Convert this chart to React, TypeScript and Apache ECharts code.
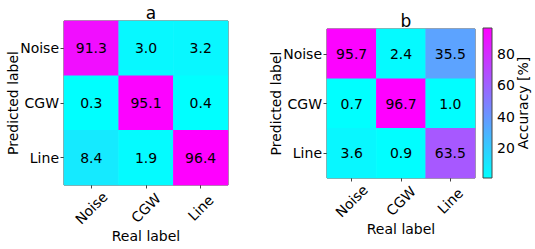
import React, { useEffect, useRef } from "react";
import * as echarts from "echarts";

const categories = ["Noise", "CGW", "Line"];
const titles = ["a", "b"];
// rows: predicted label (Noise, CGW, Line); columns: real label (Noise, CGW, Line)
const matrixA = [
  [91.3, 3.0, 3.2],
  [0.3, 95.1, 0.4],
  [8.4, 1.9, 96.4],
];
const matrixB = [
  [95.7, 2.4, 35.5],
  [0.7, 96.7, 1.0],
  [3.6, 0.9, 63.5],
];
const colorbarTicks = [20, 40, 60, 80];
const xName = "Real label";
const yName = "Predicted label";
const colorbarName = "Accuracy [%]";

const FONT = "DejaVu Sans";
const FRAME = "#444";
const CMAP = ["#00ffff", "#ff00ff"];

function toHeat(m: number[][]) {
  const out: number[][] = [];
  m.forEach((row, r) => row.forEach((v, c) => out.push([c, r, v])));
  return out;
}
function flatMin(m: number[][]) {
  return Math.min(...m.flat());
}
function flatMax(m: number[][]) {
  return Math.max(...m.flat());
}

export default function App() {
  const ref = useRef<HTMLDivElement>(null);
  useEffect(() => {
    if (!ref.current) return;
    const chart = echarts.init(ref.current, undefined, { renderer: "svg" });
    const grids = [
      { left: 64, top: 21, width: 164, height: 164 },
      { left: 327, top: 29, width: 148, height: 149 },
    ];
    const cbGrid = { left: 483, top: 28, width: 9, height: 150 };
    const mats = [matrixA, matrixB];
    const bMin = flatMin(matrixB);
    const bMax = flatMax(matrixB);

    const xAxes: any[] = grids.map((_, i) => ({
      type: "category",
      gridIndex: i,
      data: categories,
      axisLine: { show: false },
      axisTick: { show: true, alignWithLabel: true, length: 3.5, lineStyle: { color: FRAME } },
      axisLabel: {
        rotate: 45,
        align: "center",
        verticalAlign: "middle",
        margin: 23,
        fontSize: 14,
        fontFamily: FONT,
        color: "#000",
      },
      name: xName,
      nameLocation: "middle",
      nameGap: 44,
      nameMoveOverlap: false,
      nameTextStyle: { fontSize: 14, fontFamily: FONT, color: "#000" },
      splitLine: { show: false },
    }));
    const yAxes: any[] = grids.map((_, i) => ({
      type: "category",
      gridIndex: i,
      data: categories,
      inverse: true,
      axisLine: { show: false },
      axisTick: { show: true, alignWithLabel: true, length: 3.5, lineStyle: { color: FRAME } },
      axisLabel: { margin: 5, fontSize: 14, fontFamily: FONT, color: "#000" },
      name: yName,
      nameLocation: "middle",
      nameRotate: 90,
      nameGap: 44,
      nameMoveOverlap: false,
      nameTextStyle: { fontSize: 14, fontFamily: FONT, color: "#000" },
      splitLine: { show: false },
    }));
    // colorbar axes
    xAxes.push({ type: "value", gridIndex: 2, min: 0, max: 1, show: false });
    yAxes.push({
      type: "value",
      gridIndex: 2,
      position: "right",
      min: bMin,
      max: bMax,
      axisLine: { show: false },
      splitLine: { show: false },
      axisTick: {
        show: true,
        length: 3.5,
        customValues: colorbarTicks,
        lineStyle: { color: FRAME },
      },
      axisLabel: {
        margin: 5,
        customValues: colorbarTicks,
        fontSize: 14,
        fontFamily: FONT,
        color: "#000",
      },
    });

    const option: any = {
      animation: false,
      backgroundColor: "#fff",
      title: titles.map((t, i) => ({
        text: t,
        left: grids[i].left + grids[i].width / 2,
        textAlign: "center",
        top: grids[i].top - 22,
        textStyle: { fontSize: 17, fontWeight: "normal", fontFamily: FONT, color: "#000" },
      })),
      graphic: [
        {
          type: "text",
          x: cbGrid.left + cbGrid.width + 31,
          y: cbGrid.top + cbGrid.height / 2,
          rotation: Math.PI / 2,
          style: {
            text: colorbarName,
            fontSize: 14,
            fontFamily: FONT,
            fill: "#000",
            align: "center",
            verticalAlign: "middle",
          },
        },
      ],
      grid: [
        ...grids.map((g) => ({
          ...g,
          show: true,
          borderColor: FRAME,
          borderWidth: 1,
          backgroundColor: "transparent",
          containLabel: false,
          outerBoundsMode: "none",
        })),
        { ...cbGrid, containLabel: false, outerBoundsMode: "none" },
      ],
      xAxis: xAxes,
      yAxis: yAxes,
      visualMap: mats.map((m, i) => ({
        type: "continuous",
        show: false,
        seriesIndex: i,
        dimension: 2,
        min: flatMin(m),
        max: flatMax(m),
        inRange: { color: CMAP },
      })),
      series: [
        ...mats.map((m, i) => ({
          type: "heatmap",
          xAxisIndex: i,
          yAxisIndex: i,
          data: toHeat(m),
          label: {
            show: true,
            formatter: (p: any) => Number(p.value[2]).toFixed(1),
            fontSize: 14,
            fontFamily: FONT,
            color: "#000",
          },
          itemStyle: { borderWidth: 0 },
          emphasis: { disabled: true },
        })),
        {
          type: "custom",
          xAxisIndex: 2,
          yAxisIndex: 2,
          data: [[0, bMin, bMax]],
          renderItem: (_params: any, api: any) => {
            const p0 = api.coord([0, api.value(1)]);
            const p1 = api.coord([1, api.value(2)]);
            return {
              type: "rect",
              shape: { x: p0[0], y: p1[1], width: p1[0] - p0[0], height: p0[1] - p1[1] },
              style: {
                fill: new echarts.graphic.LinearGradient(0, 1, 0, 0, [
                  { offset: 0, color: CMAP[0] },
                  { offset: 1, color: CMAP[1] },
                ]),
                stroke: FRAME,
                lineWidth: 1,
              },
            };
          },
          silent: true,
        },
      ],
    };
    chart.setOption(option);
    return () => chart.dispose();
  }, []);
  return (
    <div
      ref={ref}
      style={{ position: "fixed", left: 0, top: 0, width: 535, height: 249, background: "#fff" }}
    />
  );
}
